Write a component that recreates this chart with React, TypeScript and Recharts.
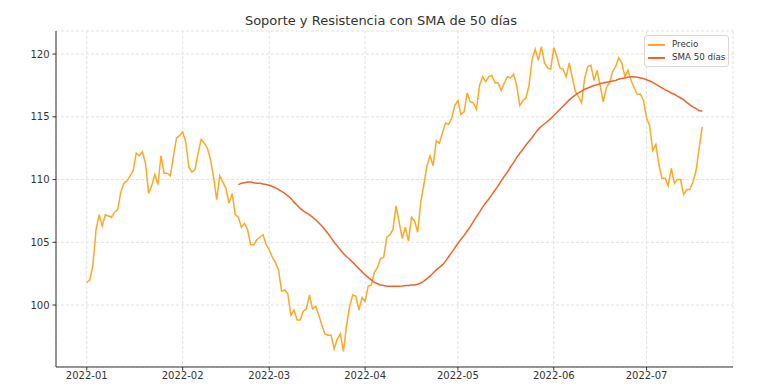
import React from "react";
import {
  LineChart,
  Line,
  XAxis,
  YAxis,
  CartesianGrid,
} from "recharts";

// daily closing price, 2022-01-01 .. 2022-07-19
const precio = [
  101.8, 102.0, 103.2, 106.0, 107.2, 106.3, 107.2, 107.1, 107.0, 107.4,
  107.6, 109.0, 109.7, 109.9, 110.3, 110.7, 112.1, 111.9, 112.2, 111.3,
  108.9, 109.5, 110.4, 109.6, 111.9, 110.5, 110.5, 110.3, 111.8, 113.3,
  113.5, 113.8, 113.0, 111.0, 110.6, 110.8, 112.1, 113.2, 112.9, 112.5,
  111.6, 110.2, 108.4, 110.3, 109.8, 109.3, 108.1, 108.9, 107.2, 107.0,
  106.2, 106.5, 106.0, 104.8, 104.8, 105.2, 105.4, 105.6, 104.8, 104.4,
  103.8, 103.4, 102.8, 101.1, 101.2, 100.9, 99.2, 99.6, 98.8, 98.8,
  99.5, 99.7, 100.8, 99.7, 99.9, 99.2, 98.4, 97.7, 97.6, 97.6,
  96.5, 97.3, 97.7, 96.3, 98.4, 99.9, 100.8, 100.7, 99.6, 100.6,
  100.3, 101.5, 101.6, 102.6, 103.0, 103.7, 103.8, 105.4, 105.6, 106.0,
  107.9, 106.6, 105.3, 106.2, 105.1, 107.0, 106.7, 105.8, 108.2, 109.6,
  111.1, 111.9, 111.1, 113.1, 112.9, 113.7, 114.5, 114.4, 114.9, 115.9,
  116.3, 115.2, 115.4, 116.9, 116.2, 116.1, 115.6, 117.5, 118.2, 117.8,
  118.2, 118.3, 117.7, 117.7, 117.1, 117.7, 118.2, 118.1, 118.4, 117.5,
  115.9, 116.3, 116.5, 117.5, 119.6, 120.4, 119.5, 120.6, 119.3, 118.9,
  118.8, 120.5, 119.8, 118.9, 118.8, 118.2, 119.3, 118.1, 117.0, 116.6,
  116.1, 118.1, 119.0, 119.1, 117.9, 118.7, 117.5, 116.2, 117.3, 117.7,
  118.6, 119.0, 119.7, 119.3, 118.2, 118.7, 117.9, 117.3, 116.8, 116.8,
  116.3, 114.9, 114.3, 112.3, 112.8, 111.2, 110.1, 110.1, 109.5, 110.9,
  109.7, 110.0, 110.0, 108.8, 109.2, 109.2, 109.8, 110.7, 112.5, 114.2,
];

// 50-day moving average, first value on day 49 (2022-02-19)
const sma50 = [
  109.6, 109.7, 109.75, 109.8, 109.8, 109.75, 109.7, 109.7, 109.65, 109.6,
  109.55, 109.45, 109.35, 109.2, 109.05, 108.9, 108.7, 108.5, 108.2, 107.95,
  107.7, 107.5, 107.35, 107.2, 107.0, 106.8, 106.55, 106.3, 106.0, 105.7,
  105.35, 105.0, 104.7, 104.4, 104.1, 103.85, 103.65, 103.4, 103.15, 102.9,
  102.65, 102.4, 102.2, 102.0, 101.8, 101.7, 101.6, 101.55, 101.5, 101.5,
  101.5, 101.5, 101.5, 101.52, 101.55, 101.55, 101.6, 101.6, 101.65, 101.75,
  101.9, 102.1, 102.3, 102.55, 102.8, 103.0, 103.2, 103.5, 103.85, 104.2,
  104.55, 104.9, 105.25, 105.55, 105.9, 106.25, 106.65, 107.05, 107.4, 107.8,
  108.15, 108.45, 108.8, 109.15, 109.5, 109.9, 110.25, 110.6, 111.0, 111.35,
  111.75, 112.1, 112.4, 112.75, 113.05, 113.35, 113.7, 114.0, 114.25, 114.45,
  114.65, 114.85, 115.1, 115.35, 115.6, 115.85, 116.1, 116.35, 116.55, 116.75,
  116.9, 117.05, 117.2, 117.3, 117.4, 117.5, 117.55, 117.65, 117.7, 117.75,
  117.8, 117.85, 117.9, 118.0, 118.05, 118.1, 118.15, 118.2, 118.2, 118.15,
  118.1, 118.05, 117.95, 117.85, 117.75, 117.6, 117.45, 117.3, 117.15, 117.05,
  116.9, 116.8, 116.65, 116.5, 116.35, 116.15, 115.95, 115.8, 115.65, 115.5,
  115.45,
];
const smaStart = 49;

const monthTicks = [0, 31, 59, 90, 120, 151, 181];
const monthLabels = ["2022-01", "2022-02", "2022-03", "2022-04", "2022-05", "2022-06", "2022-07"];
const yTicks = [100, 105, 110, 115, 120];

const data = precio.map((p, i) => ({
  day: i,
  precio: p,
  sma: i >= smaStart ? sma50[i - smaStart] : null,
}));

const font = "'DejaVu Sans', sans-serif";
const PRICE = "#FFA726";
const SMA = "#F4622C";

const legendItems = [
  { name: "Precio", color: PRICE },
  { name: "SMA 50 días", color: SMA },
];

export default function App() {
  return (
    <div style={{ position: "absolute", left: 0, top: 0, width: 758, height: 391, background: "#fff" }}>
      <div
        style={{
          position: "absolute",
          top: 13,
          left: 0,
          width: 762,
          textAlign: "center",
          fontFamily: font,
          fontSize: 13,
          color: "#333",
        }}
      >
        Soporte y Resistencia con SMA de 50 días
      </div>
      <LineChart width={758} height={391} data={data} margin={{ top: 31, right: 25, bottom: 0, left: 0 }}>
        <CartesianGrid stroke="#e2e2e2" strokeDasharray="3 2" />
        <XAxis
          dataKey="day"
          type="number"
          domain={[-9.95, 208.95]}
          ticks={monthTicks}
          tickFormatter={(v: number) => monthLabels[monthTicks.indexOf(v)]}
          allowDataOverflow
          height={24}
          tickSize={3.5}
          tickMargin={1}
          stroke="#333"
          tick={{ fill: "#333", fontSize: 10, fontFamily: font }}
        />
        <YAxis
          type="number"
          domain={[95.06, 121.84]}
          ticks={yTicks}
          allowDataOverflow
          width={56}
          tickSize={3.5}
          tickMargin={3}
          stroke="#333"
          tick={{ fill: "#333", fontSize: 10, fontFamily: font }}
        />
        <Line
          dataKey="precio"
          stroke={PRICE}
          strokeWidth={1.5}
          dot={false}
          type="linear"
          isAnimationActive={false}
        />
        <Line
          dataKey="sma"
          stroke={SMA}
          strokeWidth={1.5}
          dot={false}
          type="linear"
          isAnimationActive={false}
        />
      </LineChart>
      <div
        style={{
          position: "absolute",
          top: 35,
          left: 644,
          border: "1px solid #d6d6d6",
          borderRadius: 3,
          background: "rgba(255,255,255,0.85)",
          padding: "2px 3px 2px 3px",
          fontFamily: font,
          fontSize: 8.7,
          color: "#333",
          lineHeight: "13px",
        }}
      >
        {legendItems.map((it) => (
          <div key={it.name} style={{ display: "flex", alignItems: "center" }}>
            <span style={{ width: 17, height: 2, background: it.color, marginRight: 7, display: "inline-block" }} />
            <span>{it.name}</span>
          </div>
        ))}
      </div>
    </div>
  );
}
